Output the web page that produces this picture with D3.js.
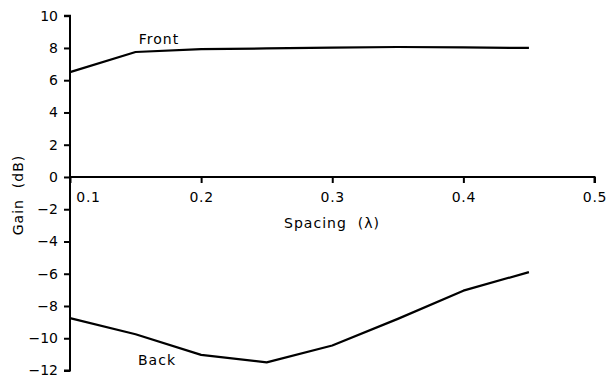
<!DOCTYPE html>
<html>
<head>
<meta charset="utf-8">
<script src="https://cdn.jsdelivr.net/npm/d3@7"></script>
<style>
  html, body { margin: 0; padding: 0; background: #fff; }
  svg { display: block; }
  text { font-family: "DejaVu Sans", sans-serif; fill: #000; white-space: pre; }
</style>
</head>
<body>
<svg id="chart" width="608" height="377"></svg>
<script>
// Antenna gain versus element spacing
const spacing = [0.10, 0.15, 0.20, 0.25, 0.30, 0.35, 0.40, 0.45];
const frontGain = [6.5, 7.75, 7.93, 7.97, 8.02, 8.06, 8.03, 8.0];
const backGain = [-8.75, -9.75, -11.03, -11.5, -10.45, -8.8, -7.05, -5.9];
const xTicks = [0.1, 0.2, 0.3, 0.4, 0.5];
const yTicks = [-12, -10, -8, -6, -4, -2, 0, 2, 4, 6, 8, 10];

const svg = d3.select("#chart");
const x = d3.scaleLinear().domain([0.1, 0.5]).range([70, 594.5]);
const y = d3.scaleLinear().domain([-12, 10]).range([370.5, 15.7]);

const fmtY = d => (d < 0 ? "\u2212" + Math.abs(d) : String(d));

// y axis on the left
const yAxis = svg.append("g").attr("transform", `translate(${x(0.1)},0)`)
  .call(d3.axisLeft(y).tickValues(yTicks).tickFormat(fmtY).tickSize(6).tickPadding(6));
yAxis.select(".domain").attr("d", `M-6,${y(10)}H0V${y(-12)}H-6`).attr("stroke-width", 2);
yAxis.selectAll(".tick line").attr("stroke-width", 2);
yAxis.selectAll(".tick text").style("font-size", "14px").style("font-family", "DejaVu Sans, sans-serif");

// x axis through zero
const xAxis = svg.append("g").attr("transform", `translate(0,${y(0)})`)
  .call(d3.axisBottom(x).tickValues(xTicks).tickFormat(d3.format(".1f")).tickSize(6).tickPadding(9));
xAxis.select(".domain").attr("d", `M${x(0.1)},0H${x(0.5)}V6`).attr("stroke-width", 2);
xAxis.selectAll(".tick line").attr("stroke-width", 2);
xAxis.selectAll(".tick text").style("font-size", "14px").style("font-family", "DejaVu Sans, sans-serif")
  .style("letter-spacing", "0.7px");
xAxis.selectAll(".tick").filter(d => d === 0.1).select("text").attr("x", 18);

// series lines
const line = vals => d3.line().x((d, i) => x(spacing[i])).y(d => y(d))(vals);
[frontGain, backGain].forEach(vals => {
  svg.append("path").attr("d", line(vals))
    .attr("fill", "none").attr("stroke", "#000").attr("stroke-width", 2.2)
    .attr("stroke-linejoin", "round");
});

// series and axis labels
const label = (tx, ty, str, rot) => svg.append("text")
  .attr("transform", `translate(${tx},${ty})` + (rot ? ` rotate(${rot})` : ""))
  .attr("text-anchor", "middle")
  .style("font-size", "14px").style("letter-spacing", "1px")
  .text(str);
label(159, 43.5, "Front");
label(157, 364.5, "Back");
label(332, 228, "Spacing  (\u03bb)");
label(23, 195, "Gain  (dB)", -90);
</script>
</body>
</html>
